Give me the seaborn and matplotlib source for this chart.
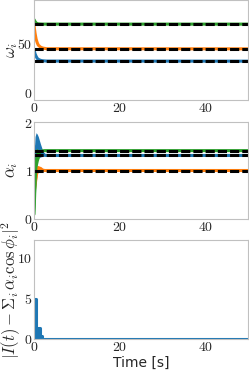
import numpy as np
import pandas as pd
import matplotlib
matplotlib.use("Agg")
import matplotlib.pyplot as plt
import seaborn as sns
from matplotlib.ticker import FuncFormatter, FixedLocator

sns.set_theme(style="white")
plt.rcParams['font.family'] = ['DejaVu Sans']
plt.rcParams['mathtext.fontset'] = 'cm'

# ---------------- data ----------------
t_end = 50
# omega_i transients
t_omega = [0, 0.25, 0.5, 0.75, 1.0, 1.5, 2.0, 3.0, 50]
omega_blue = [43, 39, 36.5, 34.5, 33.5, 32.5, 32.0, 31.7, 31.6]
omega_orange = [68, 60, 54, 50.5, 48, 46, 45, 44.3, 44.2]
omega_green = [74, 72, 70.5, 70, 69.6, 69.5, 69.4, 69.4, 69.4]
omega_target = [31.6, 44.2, 69.4]

# alpha_i oscillation envelopes
t_alpha = [0, 0.25, 0.5, 0.75, 1.0, 1.5, 2.0, 2.5, 3.0, 50]
alpha_blue_hi = [1.30, 1.70, 1.78, 1.75, 1.70, 1.55, 1.42, 1.33, 1.31, 1.31]
alpha_blue_lo = [1.10, 1.15, 1.20, 1.20, 1.25, 1.28, 1.29, 1.30, 1.31, 1.31]
alpha_orange_hi = [0.80, 0.95, 1.05, 1.10, 1.10, 1.07, 1.02, 1.00, 1.00, 1.00]
alpha_orange_lo = [0.60, 0.55, 0.70, 0.90, 1.00, 1.02, 1.00, 1.00, 1.00, 1.00]
alpha_green_hi = [0.20, 1.20, 1.45, 1.50, 1.48, 1.43, 1.41, 1.41, 1.41, 1.41]
alpha_green_lo = [0.00, 0.30, 0.90, 1.10, 1.20, 1.35, 1.40, 1.41, 1.41, 1.41]
alpha_target = [1.31, 1.00, 1.41]

# reconstruction error
t_err = [0, 0.4, 0.8, 0.95, 1.35, 1.9, 50]
err = [4.9, 1.4, 0.9, 1.4, 0.4, 0.0, 0.0]

colors = sns.color_palette("tab10", 3)

W, H = 249, 373
fig = plt.figure(figsize=(W / 100, H / 100), dpi=100)
left, right = 34 / W, 248 / W
def add_ax(top_px, bot_px):
    return fig.add_axes([left, 1 - bot_px / H, right - left, (bot_px - top_px) / H])

ax1 = add_ax(0, 100)
ax2 = add_ax(122, 219)
ax3 = add_ax(240, 339)

fmt = FuncFormatter(lambda v, p: f"${v:g}$")
lw = 2.2

def ylab(text, xpx, ypx, fs=12):
    fig.text(xpx / W, 1 - ypx / H, text, rotation=90, ha='center', va='center',
             fontsize=fs)

# omega
for y, c in zip([omega_blue, omega_orange, omega_green], colors):
    sns.lineplot(x=t_omega, y=y, ax=ax1, color=c, lw=lw)
for v in omega_target:
    ax1.axhline(v, color='black', lw=lw, dashes=(3, 1))
ax1.set_ylim(-8, 94)
ax1.yaxis.set_major_locator(FixedLocator([0, 50]))
ylab(r'$\omega_i$', 11, 50)

# alpha
for hi, lo, c in zip([alpha_blue_hi, alpha_orange_hi, alpha_green_hi],
                     [alpha_blue_lo, alpha_orange_lo, alpha_green_lo], colors):
    ax2.fill_between(t_alpha, lo, hi, color=c, lw=0)
    sns.lineplot(x=t_alpha, y=[(a + b) / 2 for a, b in zip(hi, lo)], ax=ax2, color=c, lw=lw)
for v in alpha_target:
    ax2.axhline(v, color='black', lw=lw, dashes=(3, 1))
ax2.set_ylim(0, 2)
ax2.yaxis.set_major_locator(FixedLocator([0, 1, 2]))
ylab(r'$\alpha_i$', 11, 170)

# error
ax3.fill_between(t_err, 0, err, step='post', color=colors[0], lw=0)
sns.lineplot(x=t_err, y=err, ax=ax3, color=colors[0], lw=lw, drawstyle='steps-post')
ax3.set_ylim(0, 12.2)
ax3.yaxis.set_major_locator(FixedLocator([0, 5, 10]))
ylab(r'$|I(t)-\Sigma_i\,\alpha_i\cos\phi_i|^2$', 11, 290, fs=12)
ax3.set_xlabel('Time [s]', fontsize=10, labelpad=1)

for ax in (ax1, ax2, ax3):
    ax.set_xlim(0, t_end)
    ax.set_ylabel('')
    ax.xaxis.set_major_locator(FixedLocator([0, 20, 40]))
    ax.xaxis.set_major_formatter(fmt)
    ax.yaxis.set_major_formatter(fmt)
    ax.tick_params(labelsize=10, pad=1, length=0)
    for s in ax.spines.values():
        s.set_color('#c0c0c0')
        s.set_linewidth(0.8)

fig.savefig('out.png', dpi=100)
